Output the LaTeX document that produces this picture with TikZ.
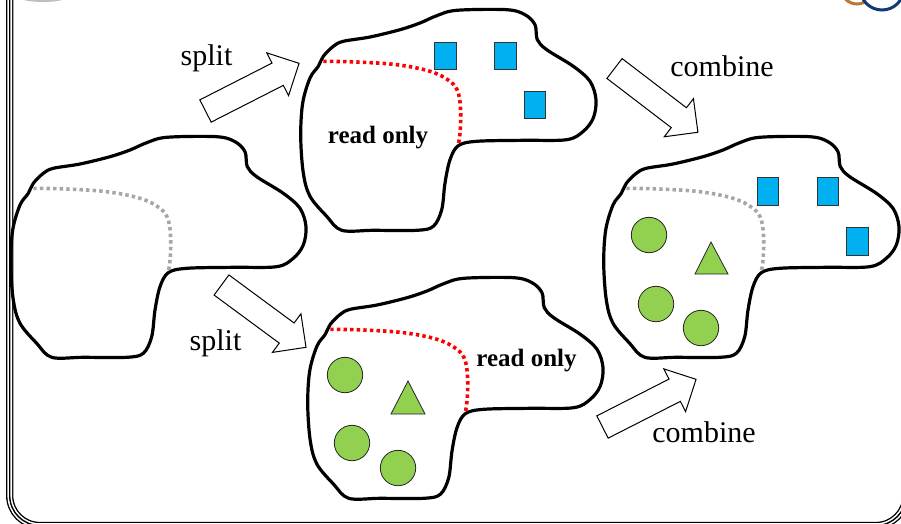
\documentclass[tikz,border=0pt]{standalone}
\usepackage{fontspec}
\setmainfont{Liberation Serif}
\definecolor{boxblue}{HTML}{00B0F0}
\definecolor{shapegreen}{HTML}{92D050}
\definecolor{dotgray}{HTML}{A6A6A6}
\definecolor{ringbrown}{RGB}{187,122,48}
\definecolor{ringblue}{RGB}{14,58,118}
\tikzset{
  blobline/.style={line width=3.2pt,line join=round,draw=black},
  dotline/.style={line width=3.6pt,dash pattern=on 3.4pt off 3.2pt},
  bluebox/.style={fill=boxblue,draw=black!80,line width=0.8pt},
  greenshape/.style={fill=shapegreen,draw=black!85,line width=0.8pt},
  lbl/.style={inner sep=0pt,anchor=base,font=\fontsize{30}{32}\selectfont},
  rolbl/.style={inner sep=0pt,anchor=base,font=\fontsize{25}{27}\selectfont\bfseries},
  pics/blob/.style={code={
    \draw[blobline] plot[smooth cycle,tension=0.55] coordinates{
      (33.3,183.3) (43.3,173.3) (53.3,168.3) (80,164) (110,156.7) (130,150)
      (146.7,142.7) (166.7,137.3) (216.7,136.7) (235,141.7) (245,151.7)
      (247.3,166.7) (256.7,176.7) (283.3,193.3) (300,208.3) (306,226.7)
      (303.3,245) (293.3,258.3) (276.7,266.7) (233.3,267.3) (186.7,268.3)
      (168.3,272.7) (160,286.7) (155,310) (151.7,336.7) (143.3,353.3)
      (126.7,357.3) (83.3,357.3) (51.7,357.3) (36.7,343.3) (20,323.3)
      (13.3,300) (10.7,263.3) (12.7,230) (20,205) (28.3,193.3)};
  }},
  pics/divider/.style={code={
    \draw[dotline,#1] plot[smooth,tension=0.6] coordinates{
      (33.3,188.3) (66.7,189) (106.7,191.7) (140,198.3) (160,208.3)
      (168.3,220) (170.7,240) (170,260) (168.3,271.7)};
  }},
  pics/blockarrow/.style={code={
    \draw[line width=1pt,fill=white,line join=miter]
      (0,-12.5) -- (81,-12.5) -- (81,-24) -- (105,0) -- (81,24) -- (81,12.5) -- (0,12.5) -- cycle;
  }},
  frameline/.style={rounded corners=30pt}
}
\begin{document}
\begin{tikzpicture}[x=1pt,y=-1pt]
\useasboundingbox (0,0) rectangle (901,523);
\clip (0,0) rectangle (901,523);
% slide frame
\draw[frameline,line width=7.3pt,black] (9.7,-60) -- (9.7,525.5) -- (906,525.5) -- (906,-60);
\draw[frameline,line width=4.6pt,white] (9.7,-60) -- (9.7,525.5) -- (906,525.5) -- (906,-60);
\draw[frameline,line width=1.4pt,black] (9.7,-60) -- (9.7,525.5) -- (906,525.5) -- (906,-60);
% top decorations
\fill[black!25] (43,-3) ellipse [x radius=24, y radius=5];
\draw[ringbrown,line width=3pt] (857,-12) circle [radius=16];
\draw[ringblue,line width=3pt,fill=white] (882,-12) circle [radius=22];
% block arrows
\pic[rotate=27] at (205.5,111) {blockarrow};
\pic[rotate=-37.4] at (614.5,68.5) {blockarrow};
\pic[rotate=-36.4] at (221.5,285) {blockarrow};
\pic[rotate=27] at (602.5,427) {blockarrow};
% blobs
\pic at (0,0) {blob};
\pic at (290,-127) {blob};
\pic at (297,141) {blob};
\pic at (593,0) {blob};
% top blob content
\draw[bluebox] (434,42) rectangle (456,69);
\draw[bluebox] (494,42) rectangle (516,69);
\draw[bluebox] (524,91) rectangle (545,118);
% right blob content
\draw[bluebox] (757,177) rectangle (778,205);
\draw[bluebox] (817,177) rectangle (838,205);
\draw[bluebox] (846,227) rectangle (868,255);
\draw[greenshape] (649,235) circle [radius=17.7];
\draw[greenshape] (656,304) circle [radius=17.7];
\draw[greenshape] (701,328) circle [radius=17.7];
\draw[greenshape] (711,242) -- (728,274) -- (695,274) -- cycle;
% bottom blob content
\draw[greenshape] (345,375) circle [radius=17.7];
\draw[greenshape] (352,443) circle [radius=17.7];
\draw[greenshape] (398,468) circle [radius=17.7];
\draw[greenshape] (408,381) -- (425,414) -- (391,414) -- cycle;
% dividers
\pic at (0,0) {divider=dotgray};
\pic at (290,-127) {divider=red};
\pic at (297,141) {divider=red};
\pic at (593,0) {divider=dotgray};
% labels
\node[lbl] (split1) at (206.5,65) {split};
\node[lbl] (split2) at (215.5,350) {split};
\node[lbl] (comb1) at (722,76) {combine};
\node[lbl] (comb2) at (704,442) {combine};
\node[rolbl] (ro1) at (378,143) {read only};
\node[rolbl] (ro2) at (526.5,366) {read only};
\end{tikzpicture}
\end{document}
